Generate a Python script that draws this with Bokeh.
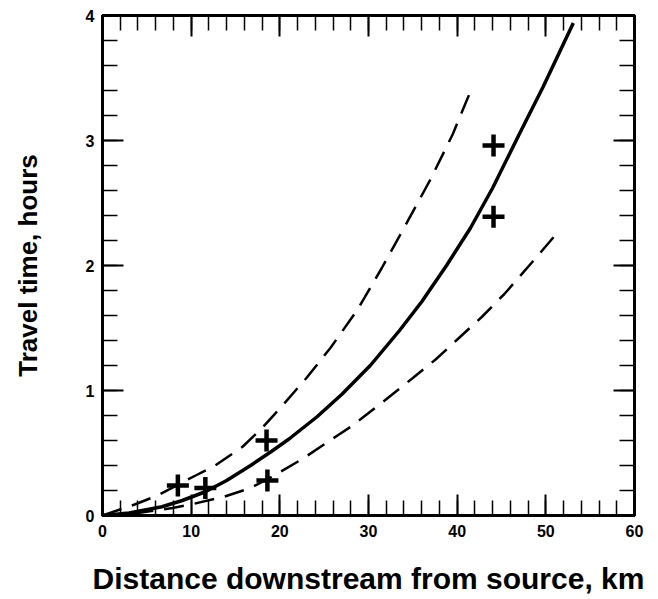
from bokeh.plotting import figure
from bokeh.models import LinearAxis, SingleIntervalTicker, Range1d
from bokeh.embed import file_html
from bokeh.resources import INLINE

# Mean travel-time curve (solid)
dist_mean = [0, 3, 6.7, 9, 11.6, 14, 16.7, 19, 21.0, 24.2, 27, 30.2, 33.5, 36, 38.8, 41.5, 44.0, 47, 49.7, 53.1]
time_mean = [0, 0.02, 0.07, 0.12, 0.19, 0.28, 0.40, 0.51, 0.61, 0.79, 0.97, 1.20, 1.48, 1.71, 2.00, 2.30, 2.62, 3.05, 3.43, 3.94]

# Upper envelope (dashed)
dist_upper = [0, 3.7, 6.2, 10.5, 12.7, 15.8, 18, 20.3, 23, 25.7, 28.7, 31.5, 34.0, 37.0, 39.5, 41.6]
time_upper = [0, 0.09, 0.16, 0.32, 0.40, 0.55, 0.70, 0.88, 1.10, 1.34, 1.64, 1.98, 2.30, 2.69, 3.05, 3.41]

# Lower envelope (dashed)
dist_lower = [0, 4, 7.9, 10.1, 13.7, 16.7, 18.6, 22.5, 26.5, 28.0, 32, 35, 37.6, 40.2, 42.8, 45.3, 48.5, 51.4]
time_lower = [0, 0.02, 0.06, 0.09, 0.15, 0.22, 0.29, 0.45, 0.64, 0.71, 0.93, 1.10, 1.25, 1.42, 1.59, 1.77, 2.03, 2.27]

# Observations (plus markers)
obs_dist = [8.5, 11.6, 18.5, 18.6, 44.1, 44.1]
obs_time = [0.24, 0.22, 0.60, 0.28, 2.96, 2.39]

x_label = "Distance downstream from source, km"
y_label = "Travel time, hours"

FONT = "Liberation Sans"

p = figure(width=650, height=597,
           x_range=Range1d(0, 60), y_range=Range1d(0, 4),
           output_backend="svg", toolbar_location=None,
           x_axis_location=None, y_axis_location=None,
           min_border_left=102, min_border_right=16,
           min_border_top=15, min_border_bottom=80)
p.grid.visible = False
p.outline_line_color = "black"
p.outline_line_width = 3
p.background_fill_color = "white"
p.border_fill_color = "white"


def make_axis(interval, show_labels, label=None, label_size="27px"):
    ax = LinearAxis(ticker=SingleIntervalTicker(interval=interval, num_minor_ticks=5))
    ax.axis_line_width = 3
    ax.axis_line_color = "black"
    ax.major_tick_in = 21
    ax.major_tick_out = 0
    ax.minor_tick_in = 15
    ax.minor_tick_out = 0
    ax.major_tick_line_width = 2
    ax.minor_tick_line_width = 1.5
    ax.major_tick_line_color = "black"
    ax.minor_tick_line_color = "black"
    if show_labels:
        ax.major_label_text_font = FONT
        ax.major_label_text_font_style = "bold"
        ax.major_label_text_font_size = "16px"
        ax.major_label_text_color = "black"
    else:
        ax.major_label_text_color = None
        ax.major_label_text_font_size = "1px"
        ax.major_label_standoff = 0
    if label:
        ax.axis_label = label
        ax.axis_label_text_font = FONT
        ax.axis_label_text_font_style = "bold"
        ax.axis_label_text_font_size = label_size
        ax.axis_label_text_color = "black"
    return ax


xb = make_axis(10, True, x_label, "30px")
xb.major_label_standoff = 9
xb.axis_label_standoff = 22
yl = make_axis(1, True, y_label, "26px")
yl.major_label_standoff = 8
yl.axis_label_standoff = 40
xt = make_axis(10, False)
yr = make_axis(1, False)

p.add_layout(xb, "below")
p.add_layout(yl, "left")
p.add_layout(xt, "above")
p.add_layout(yr, "right")

p.line(dist_mean, time_mean, line_width=3.5, color="black")
p.line(dist_upper, time_upper, line_width=2.5, color="black", line_dash="20 11")
p.line(dist_lower, time_lower, line_width=2.5, color="black", line_dash="20 11")
p.scatter(obs_dist, obs_time, marker="cross", size=22, line_width=4.5, color="black")

open("out.html", "w").write(file_html(p, INLINE))
